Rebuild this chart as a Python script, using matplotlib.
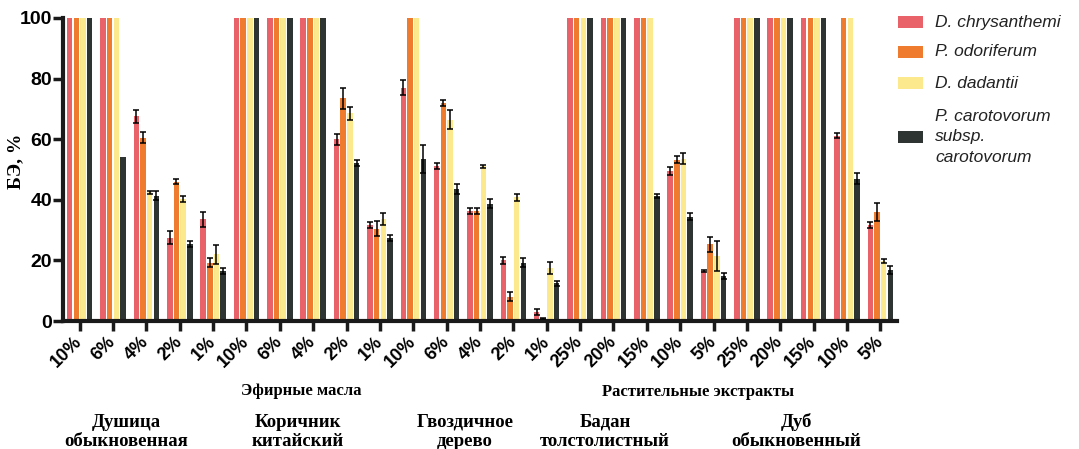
import matplotlib
matplotlib.use("Agg")
import matplotlib.pyplot as plt
from matplotlib.patches import Rectangle
import numpy as np

W, H = 1079, 449

tick_labels = ["10%", "6%", "4%", "2%", "1%",
               "10%", "6%", "4%", "2%", "1%",
               "10%", "6%", "4%", "2%", "1%",
               "25%", "20%", "15%", "10%", "5%",
               "25%", "20%", "15%", "10%", "5%"]

series_names = ["D. chrysanthemi", "P. odoriferum", "D. dadantii",
                "P. carotovorum\nsubsp.\ncarotovorum"]

d_chrysanthemi = [100, 100, 67.5, 27.5, 33.5,
                  100, 100, 100, 60.0, 31.8,
                  77.0, 51.2, 36.3, 20.0, 3.0,
                  100, 100, 100, 49.5, 16.5,
                  100, 100, 100, 61.2, 31.7]
p_odoriferum = [100, 100, 60.5, 46.0, 19.3,
                100, 100, 100, 73.5, 30.5,
                100, 72.0, 36.3, 8.0, 0.8,
                100, 100, 100, 53.3, 25.3,
                100, 100, 100, 100, 36.0]
d_dadantii = [100, 100, 42.5, 40.2, 22.0,
              100, 100, 100, 68.5, 33.7,
              100, 66.5, 51.0, 40.8, 17.5,
              100, 100, 100, 53.5, 21.5,
              100, 100, 100, 100, 19.8]
p_carotovorum = [100, 54.0, 41.3, 25.5, 16.5,
                 100, 100, 100, 52.2, 27.5,
                 53.5, 43.5, 38.7, 19.2, 12.4,
                 100, 100, 41.3, 34.4, 15.0,
                 100, 100, 100, 47.0, 16.8]

err_d_chrysanthemi = [0, 0, 2.3, 2.2, 2.5, 0, 0, 0, 1.8, 1.0, 2.5, 1.0, 1.0, 1.2, 0.9,
                      0, 0, 0, 1.2, 0.2, 0, 0, 0, 0.8, 1.1]
err_p_odoriferum = [0, 0, 1.8, 0.8, 1.6, 0, 0, 0, 3.5, 2.5, 0, 1.0, 1.0, 1.5, 0.3,
                    0, 0, 0, 1.2, 2.5, 0, 0, 0, 0, 3.0]
err_d_dadantii = [0, 0, 0.5, 1.0, 3.2, 0, 0, 0, 2.0, 2.0, 0, 3.0, 0.5, 1.1, 2.0,
                  0, 0, 0, 1.8, 5.0, 0, 0, 0, 0, 0.8]
err_p_carotovorum = [0, 0, 1.5, 1.0, 1.0, 0, 0, 0, 1.0, 1.0, 4.5, 1.7, 1.5, 1.5, 0.8,
                     0, 0, 0.7, 1.2, 1.0, 0, 0, 0, 1.8, 1.2]

section_labels = ["Эфирные масла", "Растительные экстракты"]
plant_labels = [("Душица", "обыкновенная"), ("Коричник", "китайский"),
                ("Гвоздичное", "дерево"), ("Бадан", "толстолистный"),
                ("Дуб", "обыкновенный")]

colors = ["#E9626A", "#EE7B2E", "#FCE98E", "#2E3431"]

fig = plt.figure(figsize=(W / 100, H / 100), dpi=100)
ax = fig.add_axes([63 / W, 1 - 321 / H, (897 - 63) / W, (321 - 18) / H])

x = np.arange(len(tick_labels))
values = [d_chrysanthemi, p_odoriferum, d_dadantii, p_carotovorum]
errors = [err_d_chrysanthemi, err_p_odoriferum, err_d_dadantii, err_p_carotovorum]
offsets = [-0.3, -0.1, 0.1, 0.3]
bw = 0.165
for vals, errs, off, c in zip(values, errors, offsets, colors):
    ax.bar(x + off, vals, width=bw, color=c, zorder=2)
    v = np.array(vals, dtype=float)
    e = np.array(errs, dtype=float)
    m = e > 0
    ax.errorbar(x[m] + off, v[m], yerr=e[m], fmt="none", ecolor="black",
                elinewidth=1.1, capsize=2, capthick=1.1, zorder=3)

ax.set_xlim(-0.5, len(tick_labels) - 0.5)
ax.set_ylim(0, 100)
ax.set_yticks([0, 20, 40, 60, 80, 100])
ax.set_xticks(x)
ax.set_xticklabels(tick_labels, rotation=45, ha="right", va="center",
                   rotation_mode="anchor", fontsize=13, fontweight="bold",
                   family="Liberation Sans")
for lab in ax.get_yticklabels():
    lab.set_fontsize(14)
    lab.set_fontweight("bold")
    lab.set_family("Liberation Sans")
ax.tick_params(axis="both", length=7, width=2.5, direction="out", color="#1a1a1a")
ax.tick_params(axis="x", pad=6)
ax.tick_params(axis="y", pad=1)
for s in ["top", "right"]:
    ax.spines[s].set_visible(False)
for s in ["left", "bottom"]:
    ax.spines[s].set_linewidth(3)
    ax.spines[s].set_color("#1a1a1a")

ax.set_ylabel("БЭ, %", family="Liberation Serif", fontweight="bold", fontsize=14)
ax.yaxis.set_label_coords((24 - 63) / (897 - 63), (321 - 161) / (321 - 18))

def ftext(px, py, s, **kw):
    fig.text(px / W, 1 - py / H, s, **kw)

serif = dict(family="Liberation Serif", fontweight="bold", ha="center", va="baseline")
ftext(301, 395, section_labels[0], fontsize=12, **serif)
ftext(698, 396, section_labels[1], fontsize=12, **serif)
centers = [126, 298, 465, 605, 796]
for cx, (l1, l2) in zip(centers, plant_labels):
    ftext(cx, 427, l1, fontsize=13.5, **serif)
    ftext(cx, 446, l2, fontsize=13.5, **serif)

# legend
leg_y = [22, 52, 83, 137]
for yy, c, name in zip(leg_y, colors, series_names):
    fig.patches.append(Rectangle((898 / W, 1 - (yy + 6) / H), 25 / W, 12 / H,
                                 transform=fig.transFigure, facecolor=c,
                                 edgecolor="none"))
    ftext(935, yy, name, fontsize=12.5, style="italic", family="Liberation Sans",
          ha="left", va="center", linespacing=1.47, color="#222222")

fig.savefig("out.png", dpi=100)
